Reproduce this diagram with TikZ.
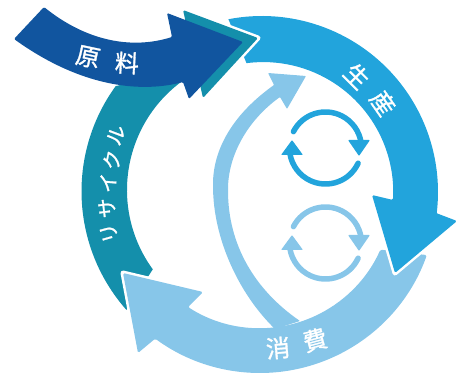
\documentclass[tikz,border=0pt]{standalone}
\usepackage{fontspec}
\newfontfamily\jpfont[FakeBold=1.2]{Noto Sans CJK JP}
\definecolor{RingBlue}{HTML}{22A4DC}
\definecolor{RingLight}{HTML}{87C6E9}
\definecolor{RingTeal}{HTML}{148FAB}
\definecolor{RingDark}{HTML}{11559F}
\tikzset{
    ringedge/.style={white,line width=5,line join=round},
    ringlabel/.style={text=white,font=\jpfont\fontsize{#1}{#1}\selectfont,inner sep=0pt},
    ringlabel/.default=24,
    swirl/.style={line width=5.5,line cap=round}
}

\begin{document}
\begin{tikzpicture}[x=1pt,y=-1pt]
    \useasboundingbox (0,0) rectangle (461,374);
    \coordinate (tealc) at (262,190);
    \coordinate (lightc) at (260,196);
    \coordinate (bluec) at (262,192);
    % recycle band
    \fill[RingTeal] ([shift={(138.5:181)}]tealc) arc[start angle=138.5,end angle=216,radius=179]
        -- (230,60) -- ([shift={(-126:135)}]tealc) arc[start angle=-126,end angle=-216,radius=135] -- cycle;
    % consumption band
    \draw[ringedge] (203,292) -- (123,273) -- (138,353);
    \fill[RingLight,rounded corners=1.5] ([shift={(19.5:177)}]lightc) arc[start angle=19.5,end angle=126.3,radius=177]
        -- (138,353) -- (123,273) -- (203,292) -- (188,307)
        arc[start angle=122.9,end angle=23.9,radius=132] -- cycle;
    % inner return arrow
    \fill[RingLight,rounded corners=0.8] (274,85) -- (268,73) -- (306,76) -- (287,109) -- (280,97)
        .. controls (248,120) and (228,155) .. (228,190)
        .. controls (228,245) and (255,290) .. (300,321)
        -- (275,329)
        .. controls (240,295) and (213,240) .. (213,185)
        .. controls (213,150) and (232,115) .. cycle;
    % production band
    \fill[RingBlue] ([shift={(-101:176)}]bluec) arc[start angle=-101,end angle=6.9,radius=176]
        -- (393,200) arc[start angle=3.5,end angle=-97.4,radius=130] -- cycle;
    \draw[ringedge] (372,195) -- (395,273) -- (457,221);
    \fill[RingBlue,rounded corners=1.5] (436,180) -- (436,213) -- (457,221) -- (395,273) -- (372,195) -- (393,200) -- (393,180) -- cycle;
    % tip of the recycle band
    \draw[ringedge] (183,10) -- (258,38) -- (203,98);
    \fill[RingTeal,rounded corners=1.5] (183,10) -- (258,38) -- (203,98) -- cycle;
    % raw material arrow
    \fill[RingDark,rounded corners=1.2] (172,37) -- (167,13) -- (243,42) -- (189,99) -- (183,82)
        .. controls (145,92) and (85,90) .. (14,39)
        -- (44,7)
        .. controls (85,40) and (130,50) .. cycle;
    % small cycles
    \foreach \col/\ypos in {RingBlue/148,RingLight/243}{
        \draw[swirl,\col] ([shift={(-153:36)}]325.5,\ypos) arc[start angle=-153,end angle=-8,radius=36];
        \draw[swirl,\col] ([shift={(25:36)}]325.5,\ypos) arc[start angle=25,end angle=170,radius=36];
        \fill[\col,rounded corners=0.8] (348,\ypos-8) -- (370,\ypos-8) -- (359,\ypos+8) -- cycle;
        \fill[\col,rounded corners=0.8] (292,\ypos-8) -- (303,\ypos+7) -- (281,\ypos+7) -- cycle;
    }
    % labels
    \node[ringlabel,rotate=-12] (genryo1) at (88,57) {原};
    \node[ringlabel,rotate=-3] (genryo2) at (127,63) {料};
    \node[ringlabel,rotate=-45] (seisan1) at (357,76) {生};
    \node[ringlabel,rotate=-55] (seisan2) at (383,103) {産};
    \node[ringlabel,rotate=5] (shohi1) at (278,348) {消};
    \node[ringlabel,rotate=15] (shohi2) at (315,340) {費};
    \node[ringlabel=20,rotate=106] (kana1) at (109,233) {リ};
    \node[ringlabel=20,rotate=97] (kana2) at (107,208) {サ};
    \node[ringlabel=20,rotate=86] (kana3) at (108,183) {イ};
    \node[ringlabel=20,rotate=79] (kana4) at (112,160) {ク};
    \node[ringlabel=20,rotate=69] (kana5) at (116,135) {ル};
\end{tikzpicture}
\end{document}
